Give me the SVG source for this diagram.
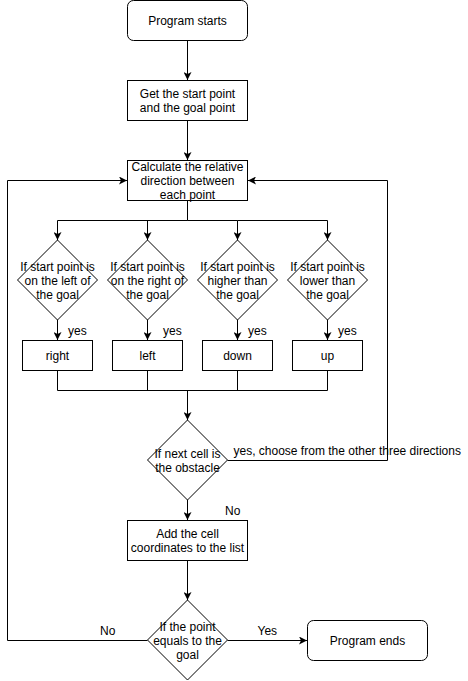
<svg xmlns="http://www.w3.org/2000/svg" width="468" height="681" viewBox="0 0 468 681">
<style>
.n{fill:#fff;stroke:#000;stroke-width:1}
.t{font-family:"Liberation Sans",Arial,sans-serif;font-size:12px;fill:#000;text-anchor:middle}
.l{font-family:"Liberation Sans",Arial,sans-serif;font-size:12px;fill:#000;text-anchor:start}
.e{fill:none;stroke:#000;stroke-width:1}
</style>
<defs>
<marker id="a" markerUnits="userSpaceOnUse" viewBox="0 0 8 8" refX="8" refY="4" markerWidth="8" markerHeight="8" orient="auto">
<path d="M0,0 L8,4 L0,8 L2,4 z" fill="#000"/>
</marker>
</defs>
<rect width="468" height="681" fill="#fff"/>
<g id="connectors">
<path class="e" d="M187.5,40.5 V80" marker-end="url(#a)"/>
<path class="e" d="M187.5,120.5 V160" marker-end="url(#a)"/>
<path class="e" d="M187.5,200.5 V220.5 H57.5 V240" marker-end="url(#a)"/>
<path class="e" d="M187.5,220.5 H147.5 V240" marker-end="url(#a)"/>
<path class="e" d="M187.5,220.5 H237.5 V240" marker-end="url(#a)"/>
<path class="e" d="M237.5,220.5 H327.5 V240" marker-end="url(#a)"/>
<path class="e" d="M57.5,320 V340" marker-end="url(#a)"/>
<path class="e" d="M147.5,320 V340" marker-end="url(#a)"/>
<path class="e" d="M237.5,320 V340" marker-end="url(#a)"/>
<path class="e" d="M327.5,320 V340" marker-end="url(#a)"/>
<path class="e" d="M57.5,370.5 V390.5 H327.5 V370.5"/>
<path class="e" d="M147.5,370.5 V390.5"/>
<path class="e" d="M237.5,370.5 V390.5"/>
<path class="e" d="M187.5,390.5 V420" marker-end="url(#a)"/>
<path class="e" d="M227.5,460.5 H387.5 V180.5 H248" marker-end="url(#a)"/>
<path class="e" d="M187.5,500 V520" marker-end="url(#a)"/>
<path class="e" d="M187.5,560.5 V600" marker-end="url(#a)"/>
<path class="e" d="M147.5,640.5 H7.5 V180.5 H127" marker-end="url(#a)"/>
<path class="e" d="M227.5,640.5 H307" marker-end="url(#a)"/>
<text class="l" x="68" y="334.5">yes</text>
<text class="l" x="163" y="334.5">yes</text>
<text class="l" x="248" y="334.5">yes</text>
<text class="l" x="338" y="334.5">yes</text>
<text class="l" x="233.5" y="455">yes, choose from the other three directions</text>
<text class="l" x="225" y="515">No</text>
<text class="l" x="100" y="634.5">No</text>
<text class="l" x="257.5" y="634.5">Yes</text>
</g>
<g id="start">
<rect class="n" x="127.5" y="0.5" width="120" height="40" rx="6"/>
<text class="t" x="187.5" y="24.5">Program starts</text>
</g>
<g id="getpoints">
<rect class="n" x="127.5" y="80.5" width="120" height="40"/>
<text class="t" x="187.5" y="98">Get the start point</text>
<text class="t" x="187.5" y="112">and the goal point</text>
</g>
<g id="calculate">
<rect class="n" x="127.5" y="160.5" width="120" height="40"/>
<text class="t" x="187.5" y="171">Calculate the relative</text>
<text class="t" x="187.5" y="185">direction between</text>
<text class="t" x="187.5" y="199">each point</text>
</g>
<g id="d-left">
<path class="n" d="M57.5,240 L97.5,280 L57.5,320 L17.5,280 Z"/>
<text class="t" x="57.5" y="271">If start point is</text>
<text class="t" x="57.5" y="285">on the left of</text>
<text class="t" x="57.5" y="299">the goal</text>
</g>
<g id="d-right">
<path class="n" d="M147.5,240 L187.5,280 L147.5,320 L107.5,280 Z"/>
<text class="t" x="147.5" y="271">If start point is</text>
<text class="t" x="147.5" y="285">on the right of</text>
<text class="t" x="147.5" y="299">the goal</text>
</g>
<g id="d-higher">
<path class="n" d="M237.5,240 L277.5,280 L237.5,320 L197.5,280 Z"/>
<text class="t" x="237.5" y="271">If start point is</text>
<text class="t" x="237.5" y="285">higher than</text>
<text class="t" x="237.5" y="299">the goal</text>
</g>
<g id="d-lower">
<path class="n" d="M327.5,240 L367.5,280 L327.5,320 L287.5,280 Z"/>
<text class="t" x="327.5" y="271">If start point is</text>
<text class="t" x="327.5" y="285">lower than</text>
<text class="t" x="327.5" y="299">the goal</text>
</g>
<g id="b-right">
<rect class="n" x="22.5" y="340.5" width="70" height="30"/>
<text class="t" x="57.5" y="359.5">right</text>
</g>
<g id="b-left">
<rect class="n" x="112.5" y="340.5" width="70" height="30"/>
<text class="t" x="147.5" y="359.5">left</text>
</g>
<g id="b-down">
<rect class="n" x="202.5" y="340.5" width="70" height="30"/>
<text class="t" x="237.5" y="359.5">down</text>
</g>
<g id="b-up">
<rect class="n" x="292.5" y="340.5" width="70" height="30"/>
<text class="t" x="327.5" y="359.5">up</text>
</g>
<g id="d-obstacle">
<path class="n" d="M187.5,420 L227.5,460 L187.5,500 L147.5,460 Z"/>
<text class="t" x="187.5" y="457.5">If next cell is</text>
<text class="t" x="187.5" y="471.5">the obstacle</text>
</g>
<g id="addcell">
<rect class="n" x="127.5" y="520.5" width="120" height="40"/>
<text class="t" x="187.5" y="538">Add the cell</text>
<text class="t" x="187.5" y="551.5">coordinates to the list</text>
</g>
<g id="d-goal">
<path class="n" d="M187.5,600 L227.5,640 L187.5,680 L147.5,640 Z"/>
<text class="t" x="187.5" y="631">If the point</text>
<text class="t" x="187.5" y="645">equals to the</text>
<text class="t" x="187.5" y="659">goal</text>
</g>
<g id="end">
<rect class="n" x="307.5" y="620.5" width="120" height="40" rx="6"/>
<text class="t" x="367.5" y="644.5">Program ends</text>
</g>
</svg>
